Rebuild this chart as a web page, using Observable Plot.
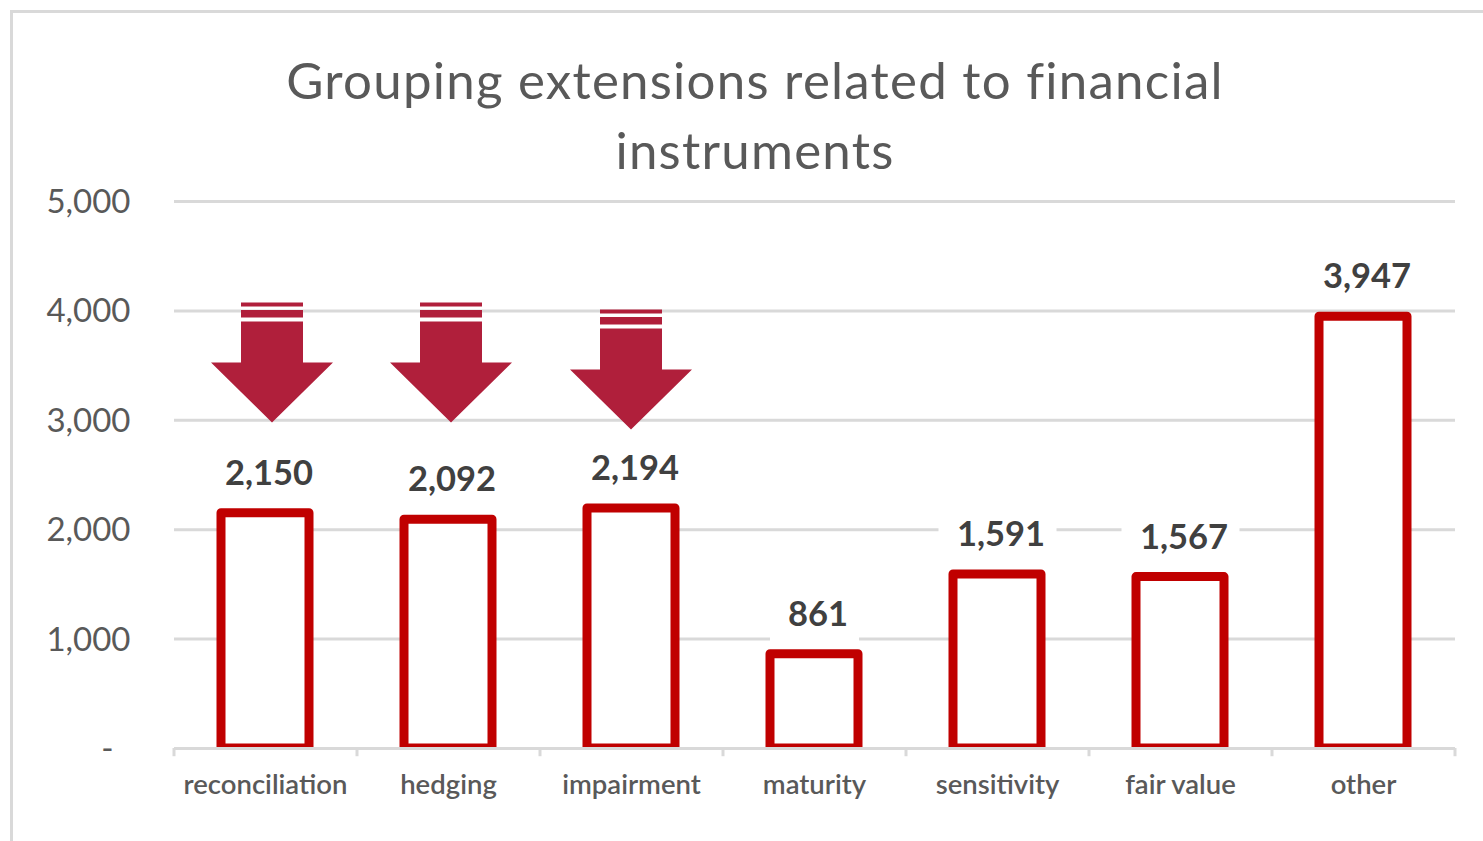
<!DOCTYPE html>
<html>
<head>
<meta charset="utf-8">
<script src="https://cdn.jsdelivr.net/npm/d3@7"></script>
<script src="https://cdn.jsdelivr.net/npm/@observablehq/plot@0.6"></script>
<style>
  html, body { margin: 0; padding: 0; background: #fff; overflow: hidden; }
  body { width: 1483px; height: 841px; position: relative; font-family: Lato, sans-serif; }
  #frame { position: absolute; left: 10px; top: 10px; right: 0; bottom: 0;
           border-left: 3px solid #d9d9d9; border-top: 3px solid #d9d9d9; }
  #title { position: relative; box-sizing: border-box; width: 1483px; height: 160px;
           padding: 45px 0 0 27px; text-align: center; font-size: 51px; line-height: 70px;
           letter-spacing: 1.25px; color: #595959; white-space: nowrap; }
  #chart { position: relative; }
  #chart svg { display: block; }
</style>
</head>
<body>
<div id="frame"></div>
<div id="title">Grouping extensions related to financial<br>instruments</div>
<div id="chart"></div>
<script>
const categories = ["reconciliation", "hedging", "impairment", "maturity", "sensitivity", "fair value", "other"];
const counts = [2150, 2092, 2194, 861, 1591, 1567, 3947];
const yTicks = [0, 1000, 2000, 3000, 4000, 5000];

// Down arrows flag the first three groups; each is anchored at its tip.
const flagged = ["reconciliation", "hedging", "impairment"];
const flagTips = [2980, 2980, 2916];
const flagShifts = [6.5, 2.5, -0.5];

const table = categories.map((category, i) => ({category, count: counts[i]}));

const grey = "#d9d9d9";
const step = 183;

// Arrow with two white bands across its shaft, tip at the origin.
const stripedArrow = {
  draw(ctx) {
    const box = (y0, y1) => {
      ctx.moveTo(-31, y0); ctx.lineTo(31, y0); ctx.lineTo(31, y1); ctx.lineTo(-31, y1); ctx.closePath();
    };
    box(-120, -116);
    box(-112.5, -105);
    ctx.moveTo(-31, -101); ctx.lineTo(31, -101); ctx.lineTo(31, -60); ctx.lineTo(61, -60);
    ctx.lineTo(0, 0); ctx.lineTo(-61, -60); ctx.lineTo(-31, -60); ctx.closePath();
  }
};

// White plates behind the value labels interrupt the gridlines;
// four-digit labels need the wider one.
const plate = halfWidth => ({
  draw(ctx) {
    ctx.rect(-halfWidth, -28, 2 * halfWidth, 56);
  }
});
const plateMark = (rows, halfWidth) => Plot.dot(rows, {
  x: "category", y: "count", dy: -40,
  symbol: plate(halfWidth), fill: "white", stroke: "none"
});

const plot = Plot.plot({
  width: 1483,
  height: 681,
  marginLeft: 174,
  marginRight: 28,
  marginTop: 41,
  marginBottom: 93,
  style: {background: "transparent", fontFamily: "Lato, sans-serif"},
  x: {domain: categories, paddingInner: 0.519, paddingOuter: 0.2595, align: 0.5, label: null},
  y: {domain: [0, 5000], label: null},
  marks: [
    Plot.ruleY(yTicks, {stroke: grey, strokeWidth: 3}),
    // Category separators hang just below the baseline, on the band edges.
    Plot.ruleX(categories, {x: d => d, dx: step / 2, y1: 0, y2: -75, stroke: grey, strokeWidth: 3}),
    Plot.ruleX(categories.slice(0, 1), {x: d => d, dx: -step / 2, y1: 0, y2: -75, stroke: grey, strokeWidth: 3}),
    plateMark(table.filter(d => d.count >= 1000), 59),
    plateMark(table.filter(d => d.count < 1000), 44.5),
    Plot.barY(table, {
      x: "category", y: "count", fill: "white", stroke: "#c00000",
      strokeWidth: 9, strokeLinejoin: "round", clip: "frame"
    }),
    Plot.ruleY([0], {stroke: grey, strokeWidth: 3}),
    Plot.text(table, {
      x: "category", y: "count", text: d => d3.format(",")(d.count),
      dx: 3.5, dy: -39.5, fontSize: 34.5, fontWeight: 700, fill: "#404040"
    }),
    ...flagged.map((category, i) => Plot.dot([category], {
      x: d => d, y: () => flagTips[i], dx: flagShifts[i],
      symbol: stripedArrow, fill: "#b01f3b", stroke: "none"
    })),
    Plot.axisY({
      ticks: yTicks, tickSize: 0, tickPadding: 44, fontSize: 33, dy: 1, color: "#595959",
      // Accounting-style zero: a dash held back from the right edge of the column.
      tickFormat: d => d === 0 ? "-\u00a0\u00a0" : d3.format(",")(d), label: null
    }),
    Plot.axisX({
      tickSize: 0, tickPadding: 26, fontSize: 27.5, fontWeight: 600, color: "#595959", label: null
    })
  ]
});
document.getElementById("chart").appendChild(plot);
</script>
</body>
</html>
